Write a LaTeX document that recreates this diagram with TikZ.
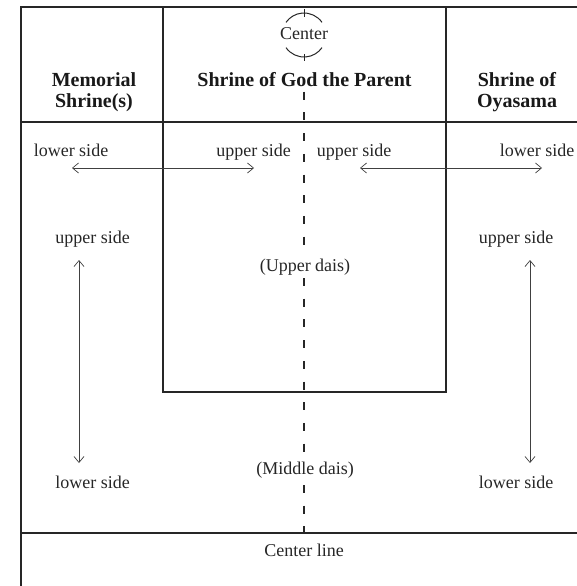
\documentclass[tikz,border=0pt]{standalone}
\usepackage{fontspec}
\setmainfont{Liberation Serif}
\usetikzlibrary{arrows.meta}
\begin{document}
\begin{tikzpicture}[x=1pt,y=-1pt,
  rule/.style={line width=1.8pt, black!85},
  lbl/.style={font=\fontsize{18}{21}\selectfont, inner sep=0pt, anchor=base, black!85},
  dais/.style={lbl, fill=white, inner sep=1.5pt},
  head/.style={font=\bfseries\fontsize{20}{21}\selectfont, inner sep=0pt, align=center, anchor=base, black!90},
  dir/.style={line width=0.7pt, black!75, {Straight Barb[length=6pt,width=10pt]}-{Straight Barb[length=6pt,width=10pt]}},
  centerline/.style={line width=1.6pt, black!85, dash pattern=on 8pt off 12.7pt},
  crossmark/.style={line width=1pt, black!85}
]
\useasboundingbox (0,0) rectangle (577,586);

% centre axis (drawn first so labels can sit over it)
\coordinate (axTop) at (304,71);
\coordinate (axBot) at (304,533);
\draw[centerline] (axTop) -- (axBot);

% outer frame, columns and rows
\draw[rule] (577,7) -- (21,7) -- (21,586);
\draw[rule] (21,122) -- (577,122);
\draw[rule] (21,533) -- (577,533);
\draw[rule] (163,7) -- (163,392) -- (446,392) -- (446,7);

% centre mark
\begin{scope}[shift={(304,35)}, y=1pt]
  \draw[crossmark] (35:22) arc (35:145:22);
  \draw[crossmark] (215:22) arc (215:325:22);
  \draw[crossmark] (0,26) -- (0,18);
  \draw[crossmark] (0,-19) -- (0,-26);
\end{scope}
\node[lbl] (center) at (304,40) {Center};

% headings (base anchor sits on the last line)
\node[head] (memorial) at (94,107) {Memorial\\Shrine(s)};
\node[head, fill=white, inner sep=1pt] (parent) at (304.5,86) {Shrine of God the Parent};
\node[head] (oyasama) at (517,107) {Shrine of\\Oyasama};

% side labels, top row
\node[lbl] (lowL) at (71,156) {lower side};
\node[lbl] (upML) at (253.5,156) {upper side};
\node[lbl] (upMR) at (354,156) {upper side};
\node[lbl] (lowR) at (537,156) {lower side};

% side labels in the outer columns
\node[lbl] (upL) at (92.6,243) {upper side};
\node[lbl] (upR) at (516,243) {upper side};
\node[lbl] (lowLB) at (92.6,488) {lower side};
\node[lbl] (lowRB) at (516,488) {lower side};

% dais labels
\node[dais] (upperdais) at (305,271) {(Upper dais)};
\node[dais] (middledais) at (305,474) {(Middle dais)};
\node[lbl] (cline) at (304,556) {Center line};

% direction arrows
\coordinate (hL1) at (72,168);
\coordinate (hL2) at (254,168);
\coordinate (hR1) at (360,168);
\coordinate (hR2) at (542,168);
\coordinate (vL1) at (79,260);
\coordinate (vL2) at (79,463);
\coordinate (vR1) at (530,260);
\coordinate (vR2) at (530,463);
\draw[dir] (hL1) -- (hL2);
\draw[dir] (hR1) -- (hR2);
\draw[dir] (vL1) -- (vL2);
\draw[dir] (vR1) -- (vR2);
\end{tikzpicture}
\end{document}
